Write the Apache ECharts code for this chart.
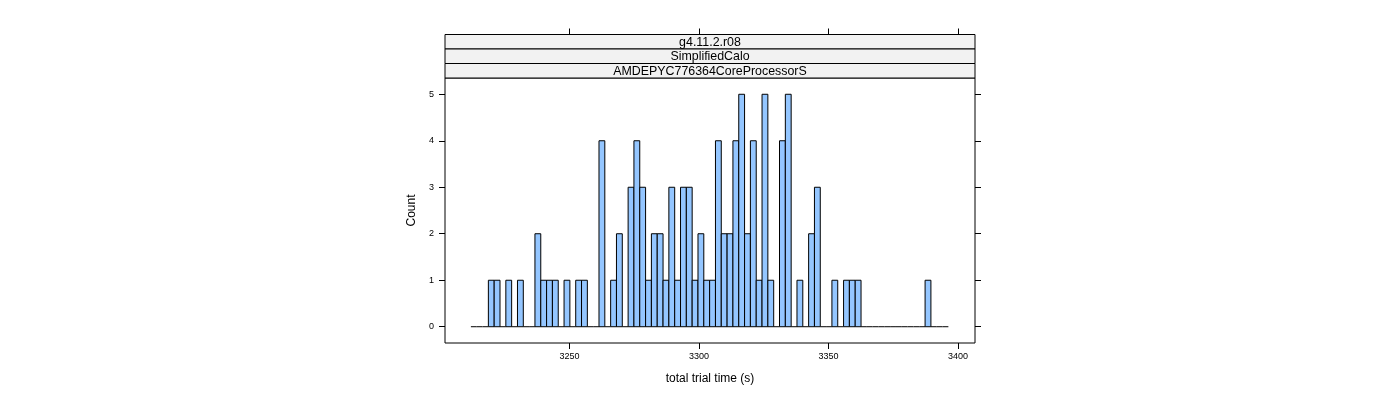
<!DOCTYPE html>
<html>
<head>
<meta charset="utf-8">
<script src="https://cdn.jsdelivr.net/npm/echarts@6/dist/echarts.min.js"></script>
<style>
html,body{margin:0;padding:0;background:#fff;}
#chart{width:1400px;height:400px;}
</style>
</head>
<body>
<div id="chart"></div>
<script>
// ---- data ----
const stripLabels = ['g4.11.2.r08', 'SimplifiedCalo', 'AMDEPYC776364CoreProcessorS'];
const binStart = 3211.9;
const binWidth = 2.249;
const counts = [
  0,0,0,1,1,0,1,0,1,0,
  0,2,1,1,1,0,1,0,1,1,
  0,0,4,0,1,2,0,3,4,3,
  1,2,2,1,3,1,3,3,1,2,
  1,1,4,2,2,4,5,2,4,1,
  5,1,0,4,5,0,1,0,2,3,
  0,0,1,0,1,1,1,0,0,0,
  0,0,0,0,0,0,0,0,1,0,
  0,0
];
const xTicks = [3250, 3300, 3350, 3400];
const yTicks = [0, 1, 2, 3, 4, 5];
const xTitle = 'total trial time (s)';
const yTitle = 'Count';

// ---- build ----
const bins = counts.map((c, i) => [binStart + i * binWidth, binStart + (i + 1) * binWidth, c]);
const FONT = '"Liberation Sans", Arial, sans-serif';
const L = 445, T = 78, W = 530, H = 265;
const stripH = 14.5;
const plain = v => String(v);

const chart = echarts.init(document.getElementById('chart'), null, {renderer: 'canvas'});

const graphics = [];
for (let i = 0; i < stripLabels.length; i++) {
  const y = T - stripH * (stripLabels.length - i);
  graphics.push({
    type: 'rect', shape: {x: L, y: y, width: W, height: stripH},
    style: {fill: '#f2f2f2', stroke: '#000', lineWidth: 1}, z: 10
  });
  graphics.push({
    type: 'text', x: L + W / 2, y: y + stripH / 2 + 0.5,
    style: {text: stripLabels[i], fill: '#000', font: '12.4px ' + FONT, textAlign: 'center', textVerticalAlign: 'middle'}, z: 11
  });
}

const option = {
  animation: false,
  backgroundColor: '#fff',
  grid: {left: L, top: T, width: W, height: H, show: true, borderColor: '#000', borderWidth: 1, backgroundColor: 'transparent'},
  xAxis: [
    {
      type: 'value', min: 3201.9, max: 3406.6, position: 'bottom',
      name: xTitle, nameLocation: 'middle', nameGap: 30,
      nameTextStyle: {fontFamily: FONT, fontSize: 12, color: '#000'},
      axisLine: {show: false, onZero: false},
      splitLine: {show: false},
      axisTick: {show: true, length: 6, customValues: xTicks, lineStyle: {color: '#000'}},
      axisLabel: {show: true, customValues: xTicks, formatter: plain, fontFamily: FONT, fontSize: 9, color: '#000', margin: 9}
    },
    {
      type: 'value', min: 3201.9, max: 3406.6, position: 'top', offset: stripH * 3,
      axisLine: {show: false, onZero: false}, splitLine: {show: false},
      axisTick: {show: true, length: 6, customValues: xTicks, lineStyle: {color: '#000'}},
      axisLabel: {show: false}
    }
  ],
  yAxis: [
    {
      type: 'value', min: -0.35, max: 5.35, position: 'left',
      name: yTitle, nameLocation: 'middle', nameGap: 27, nameRotate: 90,
      nameTextStyle: {fontFamily: FONT, fontSize: 12, color: '#000'},
      axisLine: {show: false, onZero: false}, splitLine: {show: false},
      axisTick: {show: true, length: 6, customValues: yTicks, lineStyle: {color: '#000'}},
      axisLabel: {show: true, customValues: yTicks, formatter: plain, fontFamily: FONT, fontSize: 9, color: '#000', margin: 11}
    },
    {
      type: 'value', min: -0.35, max: 5.35, position: 'right',
      axisLine: {show: false, onZero: false}, splitLine: {show: false},
      axisTick: {show: true, length: 6, customValues: yTicks, lineStyle: {color: '#000'}},
      axisLabel: {show: false}
    }
  ],
  series: [{
    type: 'custom',
    xAxisIndex: 0, yAxisIndex: 0,
    data: bins,
    clip: true,
    renderItem: function (params, api) {
      const x0 = api.value(0), x1 = api.value(1), c = api.value(2);
      const p0 = api.coord([x0, 0]);
      const p1 = api.coord([x1, c]);
      if (c === 0) {
        return {type: 'line', shape: {x1: p0[0], y1: p0[1], x2: p1[0], y2: p0[1]},
          style: {stroke: '#000', lineWidth: 1}};
      }
      return {
        type: 'rect',
        shape: {x: p0[0], y: p1[1], width: p1[0] - p0[0], height: p0[1] - p1[1]},
        style: {fill: '#94c6ff', stroke: '#000', lineWidth: 1}
      };
    }
  }],
  graphic: graphics
};
chart.setOption(option);
</script>
</body>
</html>
